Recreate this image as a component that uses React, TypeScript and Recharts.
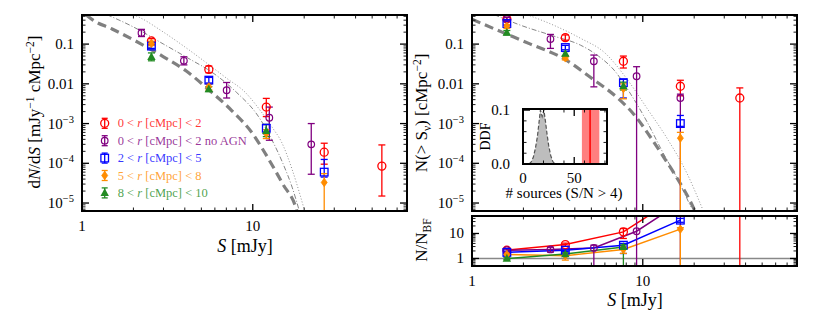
import React from "react";
import {
  Area,
  ComposedChart,
  ErrorBar,
  Legend,
  Line,
  ReferenceArea,
  ReferenceLine,
  Scatter,
  XAxis,
  YAxis,
} from "recharts";

const FONT = '"Liberation Serif", "DejaVu Serif", serif';

type Pt = { s: number; v: number; lo: number; hi: number };

// ---- left panel: differential counts dN/dS ----
const dndsRed: Pt[] = [
  { s: 2.55, v: 0.12, lo: 0.105, hi: 0.137 },
  { s: 5.53, v: 0.023, lo: 0.019, hi: 0.028 },
  { s: 12.0, v: 2.6e-3, lo: 1.5e-3, hi: 4.3e-3 },
  { s: 26.2, v: 1.9e-4, lo: 9.5e-5, hi: 3.2e-4 },
  { s: 57, v: 8.5e-5, lo: 1.5e-5, hi: 2.9e-4 },
];
const dndsPurple: Pt[] = [
  { s: 2.23, v: 0.19, lo: 0.155, hi: 0.235 },
  { s: 3.95, v: 0.038, lo: 0.03, hi: 0.048 },
  { s: 7.03, v: 0.0069, lo: 0.0044, hi: 0.0108 },
  { s: 12.5, v: 1.4e-3, lo: 3.8e-4, hi: 2.6e-3 },
  { s: 22, v: 3e-4, lo: 5.3e-5, hi: 1e-3 },
];
const dndsBlue: Pt[] = [
  { s: 2.55, v: 0.089, lo: 0.078, hi: 0.1 },
  { s: 5.53, v: 0.0124, lo: 0.0105, hi: 0.0145 },
  { s: 12.0, v: 7.6e-4, lo: 5.5e-4, hi: 9.5e-4 },
  { s: 26.2, v: 6e-5, lo: 4.5e-5, hi: 1.25e-4 },
];
const dndsOrange: Pt[] = [
  { s: 2.55, v: 0.104, lo: 0.092, hi: 0.118 },
  { s: 5.53, v: 0.0084, lo: 0.007, hi: 0.0098 },
  { s: 12.0, v: 5.6e-4, lo: 4.2e-4, hi: 7e-4 },
  { s: 26.2, v: 3.3e-5, lo: 1e-6, hi: 5.5e-5 },
];
const dndsGreen: Pt[] = [
  { s: 2.55, v: 0.048, lo: 0.038, hi: 0.06 },
  { s: 5.53, v: 0.0074, lo: 0.0064, hi: 0.0085 },
  { s: 12.0, v: 6.6e-4, lo: 4.7e-4, hi: 9.5e-4 },
];

// model curves, left panel [S, dN/dS]
const dndsModel = [
  [1.06, 0.54], [1.16, 0.4], [1.5, 0.24], [2.17, 0.106], [3, 0.048], [4.08, 0.021],
  [5.5, 0.0072], [7.55, 2.1e-3], [10, 5.5e-4], [12, 1.6e-4], [15, 3e-5], [18, 7e-6], [18.4, 5e-6],
];
const dndsDashDot = [
  [1.4, 0.55], [1.556, 0.45], [2, 0.27], [3, 0.1], [4.08, 0.047], [6.09, 0.0166], [8, 0.0062],
  [10.8, 1.5e-3], [12.9, 4e-4], [15, 1e-4], [17, 2.5e-5], [18.8, 6e-6],
];
const dndsDotted = [
  [2.0, 0.55], [2.17, 0.47], [3, 0.2], [4, 0.085], [5.55, 0.03], [7, 0.014], [9.07, 0.006],
  [11, 2.2e-3], [13, 8e-4], [14.7, 3.5e-4], [17, 7e-5], [19, 1.5e-5], [20.2, 6e-6],
];

// ---- right panel: cumulative counts N(>S) ----
const cumRed: Pt[] = [
  { s: 1.6, v: 0.43, lo: 0.39, hi: 0.47 },
  { s: 3.52, v: 0.145, lo: 0.125, hi: 0.17 },
  { s: 7.7, v: 0.037, lo: 0.025, hi: 0.05 },
  { s: 16.6, v: 0.0087, lo: 0.005, hi: 0.0123 },
  { s: 37, v: 0.0044, lo: 1e-6, hi: 0.0079 },
];
const cumPurple: Pt[] = [
  { s: 1.6, v: 0.43, lo: 0.39, hi: 0.47 },
  { s: 2.88, v: 0.134, lo: 0.078, hi: 0.175 },
  { s: 5.17, v: 0.037, lo: 0.0084, hi: 0.053 },
  { s: 9.2, v: 0.0155, lo: 1e-6, hi: 0.027 },
  { s: 16.6, v: 0.0044, lo: 1e-6, hi: 0.0055 },
];
const cumBlue: Pt[] = [
  { s: 1.6, v: 0.33, lo: 0.3, hi: 0.37 },
  { s: 3.52, v: 0.082, lo: 0.072, hi: 0.093 },
  { s: 7.7, v: 0.0107, lo: 0.0044, hi: 0.013 },
  { s: 16.6, v: 1e-3, lo: 8.5e-4, hi: 1.6e-3 },
];
const cumOrange: Pt[] = [
  { s: 1.6, v: 0.28, lo: 0.25, hi: 0.31 },
  { s: 3.52, v: 0.045, lo: 0.04, hi: 0.05 },
  { s: 7.7, v: 0.0076, lo: 0.0042, hi: 0.01 },
  { s: 16.6, v: 4.3e-4, lo: 1e-6, hi: 6e-4 },
];
const cumGreen: Pt[] = [
  { s: 1.6, v: 0.195, lo: 0.17, hi: 0.22 },
  { s: 3.52, v: 0.058, lo: 0.05, hi: 0.065 },
  { s: 7.7, v: 0.0088, lo: 0.007, hi: 0.011 },
];

const cumModel = [
  [1, 0.42], [1.5, 0.2], [2.2, 0.1], [3.45, 0.043], [5, 0.014], [7, 0.0047], [8.88, 1.7e-3],
  [11, 4.8e-4], [12.7, 1.9e-4], [15.5, 5e-5], [19.2, 1e-5], [20.3, 6e-6],
];
const cumDashDot = [
  [1.35, 0.55], [1.92, 0.3], [3, 0.16], [4.32, 0.094], [5.5, 0.05], [6.8, 0.022], [8.5, 0.0055],
  [10.6, 1.1e-3], [13, 2e-4], [16, 4e-5], [19.1, 8e-6],
];
const cumDotted = [
  [2.1, 0.55], [3, 0.3], [4.32, 0.14], [6, 0.06], [8, 0.014], [10.6, 2.4e-3], [14, 4e-4],
  [18, 6e-5], [22.4, 7e-6],
];

// ---- ratio panel N / N_BF ----
const ratioRed: Pt[] = [
  { s: 1.6, v: 2.15, lo: 1.9, hi: 2.4 },
  { s: 3.52, v: 3.6, lo: 3.1, hi: 4.1 },
  { s: 7.7, v: 11.6, lo: 6.3, hi: 15.8 },
  { s: 16.6, v: 340, lo: 200, hi: 500 },
  { s: 37, v: 3000, lo: 0.1, hi: 1e5 },
];
const ratioPurple: Pt[] = [
  { s: 1.6, v: 2.15, lo: 1.9, hi: 2.4 },
  { s: 2.88, v: 2.3, lo: 1.8, hi: 2.8 },
  { s: 5.17, v: 2.65, lo: 0.1, hi: 3.4 },
  { s: 9.2, v: 12.3, lo: 0.1, hi: 1000 },
  { s: 16.6, v: 170, lo: 0.1, hi: 1000 },
];
const ratioBlue: Pt[] = [
  { s: 1.6, v: 1.75, lo: 1.55, hi: 1.95 },
  { s: 3.52, v: 2.15, lo: 1.9, hi: 2.4 },
  { s: 7.7, v: 3.4, lo: 1.58, hi: 4.0 },
  { s: 16.6, v: 34, lo: 28, hi: 40 },
];
const ratioOrange: Pt[] = [
  { s: 1.6, v: 1.45, lo: 1.3, hi: 1.6 },
  { s: 3.52, v: 1.3, lo: 0.86, hi: 1.5 },
  { s: 7.7, v: 2.3, lo: 1.6, hi: 3.0 },
  { s: 16.6, v: 14.9, lo: 0.1, hi: 17 },
];
const ratioGreen: Pt[] = [
  { s: 1.6, v: 1.0, lo: 0.9, hi: 1.12 },
  { s: 3.52, v: 1.5, lo: 1.3, hi: 1.7 },
  { s: 7.7, v: 2.9, lo: 0.1, hi: 3.5 },
];
const ratioUnity = 1;

// ---- inset: distribution of source numbers ----
const histSources = [6, 8, 10, 12, 14, 15.5, 17, 18.7, 20.4, 22, 23.5, 25, 27, 29, 31];
const histDdf = [0, 0.004, 0.012, 0.028, 0.05, 0.075, 0.1, 0.088, 0.1, 0.078, 0.055, 0.035, 0.016, 0.005, 0];
const observedCount = 65.5;
const observedBand = [57.5, 74.5];

const legendLo = ["0", "0", "2", "5", "8"];
const legendHi = ["2", "2 no AGN", "5", "8", "10"];

const X_DOMAIN = [1, 80];
const Y_MAIN = [6.3e-6, 0.54];
const Y_RATIO = [0.5, 50];
const X_MAJOR = [1, 10];
const Y_MAIN_MAJOR = [1e-6, 1e-5, 1e-4, 1e-3, 0.01, 0.1];
const Y_RATIO_MAJOR = [0.1, 1, 10];

const series = [
  { key: "red", color: "#ff0000", kind: "circle", dnds: dndsRed, cum: cumRed, ratio: ratioRed },
  { key: "purple", color: "#800080", kind: "small", dnds: dndsPurple, cum: cumPurple, ratio: ratioPurple },
  { key: "blue", color: "#0000ff", kind: "square", dnds: dndsBlue, cum: cumBlue, ratio: ratioBlue },
  { key: "orange", color: "#ff8c00", kind: "diamond", dnds: dndsOrange, cum: cumOrange, ratio: ratioOrange },
  { key: "green", color: "#228b22", kind: "triangle", dnds: dndsGreen, cum: cumGreen, ratio: ratioGreen },
];

const clamp = (v: number, d: number[]) => Math.min(Math.max(v, d[0]), d[1]);

// error bar ends are kept inside the axis range (matplotlib clips them there)
const toPoints = (d: Pt[], dom: number[]) =>
  d.map((p) => ({ x: p.s, y: p.v, err: [p.v - clamp(p.lo, dom), clamp(p.hi, dom) - p.v] }));
const toCurve = (d: number[][]) => d.map(([x, y]) => ({ x, y }));
const toLine = (d: Pt[]) => d.map((p) => ({ x: p.s, y: p.v }));

function logTicks(majors: number[], lo: number, hi: number) {
  const out: number[] = [];
  majors.forEach((m) => {
    for (let k = 1; k <= 9; k++) {
      const v = m * k;
      if (v >= lo * 0.999 && v <= hi * 1.001) out.push(v);
    }
  });
  return out;
}

const isDecade = (v: number) => Math.abs(Math.log10(v) - Math.round(Math.log10(v))) < 1e-6;

function powLabel(v: number): React.ReactNode {
  const e = Math.round(Math.log10(v));
  if (e >= -2) return Number(v.toPrecision(2)).toString();
  return (
    <>
      10
      <tspan dy={-6} fontSize={10.5}>
        {"\u2212" + Math.abs(e)}
      </tspan>
    </>
  );
}

function makeXTick(span: number, isMajor: (v: number) => boolean, label?: (v: number) => React.ReactNode, dyLabel = 20) {
  return (props: any) => {
    const { x, y, payload } = props;
    const v = payload.value;
    const mj = isMajor(v);
    const len = mj ? 7 : 3.5;
    const sw = mj ? 1.3 : 0.9;
    return (
      <g>
        <line x1={x} y1={y} x2={x} y2={y - len} stroke="#000" strokeWidth={sw} />
        <line x1={x} y1={y - span} x2={x} y2={y - span + len} stroke="#000" strokeWidth={sw} />
        {label && mj ? (
          <text x={x} y={y + dyLabel} textAnchor="middle" fontFamily={FONT} fontSize={15} fill="#000">
            {label(v)}
          </text>
        ) : null}
      </g>
    );
  };
}

function makeYTick(span: number, isMajor: (v: number) => boolean, label?: (v: number) => React.ReactNode, gap = 8) {
  return (props: any) => {
    const { x, y, payload } = props;
    const v = payload.value;
    const mj = isMajor(v);
    const len = mj ? 7 : 3.5;
    const sw = mj ? 1.3 : 0.9;
    return (
      <g>
        <line x1={x} y1={y} x2={x + len} y2={y} stroke="#000" strokeWidth={sw} />
        <line x1={x + span} y1={y} x2={x + span - len} y2={y} stroke="#000" strokeWidth={sw} />
        {label && mj ? (
          <text x={x - gap} y={y + 5} textAnchor="end" fontFamily={FONT} fontSize={15} fill="#000">
            {label(v)}
          </text>
        ) : null}
      </g>
    );
  };
}

function drawMarker(kind: string, color: string, cx: number, cy: number) {
  switch (kind) {
    case "circle":
      return <circle cx={cx} cy={cy} r={4} fill="none" stroke={color} strokeWidth={1.3} />;
    case "small":
      return <circle cx={cx} cy={cy} r={3.3} fill="none" stroke={color} strokeWidth={1.2} />;
    case "square":
      return <rect x={cx - 3.8} y={cy - 3.8} width={7.6} height={7.6} fill="none" stroke={color} strokeWidth={1.3} />;
    case "diamond":
      return (
        <polygon
          points={`${cx},${cy - 4.2} ${cx + 3},${cy} ${cx},${cy + 4.2} ${cx - 3},${cy}`}
          fill={color}
          stroke={color}
          strokeWidth={0.8}
        />
      );
    default:
      return <polygon points={`${cx},${cy - 4.6} ${cx + 4.2},${cy + 3.2} ${cx - 4.2},${cy + 3.2}`} fill={color} />;
  }
}

// markers that fall outside the plot box are not drawn
const markerShape = (kind: string, color: string, top: number, bottom: number) => (p: any) => {
  if (p.cx == null || p.cy == null || Number.isNaN(p.cy) || p.cy < top - 2 || p.cy > bottom + 2) return <g />;
  return drawMarker(kind, color, p.cx, p.cy);
};

function LegendBox() {
  return (
    <svg width={230} height={92} style={{ overflow: "visible" }}>
      {series.map((s, i) => {
        const cy = 9.3 + i * 17.4;
        return (
          <g key={s.key}>
            <line x1={8.7} y1={cy - 5} x2={8.7} y2={cy + 5} stroke={s.color} strokeWidth={1.3} />
            <line x1={5.7} y1={cy - 5} x2={11.7} y2={cy - 5} stroke={s.color} strokeWidth={1.3} />
            <line x1={5.7} y1={cy + 5} x2={11.7} y2={cy + 5} stroke={s.color} strokeWidth={1.3} />
            {drawMarker(s.kind, s.color, 8.7, cy)}
            <text x={21.7} y={cy + 4} fontFamily={FONT} fontSize={12.5} fill={s.color} fillOpacity={0.8}>
              {legendLo[i]} &lt; <tspan fontStyle="italic">r</tspan> [cMpc] &lt; {legendHi[i]}
            </text>
          </g>
        );
      })}
    </svg>
  );
}

const txt = { fontFamily: FONT, fill: "#000" };

function LeftYTitle() {
  return (
    <text transform="rotate(-90)" x={-112} y={40} textAnchor="middle" fontSize={17} {...txt}>
      d<tspan fontStyle="italic">N</tspan>/d<tspan fontStyle="italic">S</tspan> [mJy
      <tspan dy={-6} fontSize={11.5}>{"\u22121"}</tspan>
      <tspan dy={6}> cMpc</tspan>
      <tspan dy={-6} fontSize={11.5}>{"\u22122"}</tspan>
      <tspan dy={6}>]</tspan>
    </text>
  );
}

function LeftXTitle() {
  return (
    <text x={245} y={252} textAnchor="middle" fontSize={18} {...txt}>
      <tspan fontStyle="italic">S</tspan> [mJy]
    </text>
  );
}

function RightXTitle() {
  return (
    <text x={235} y={306} textAnchor="middle" fontSize={18} {...txt}>
      <tspan fontStyle="italic">S</tspan> [mJy]
    </text>
  );
}

function RightYTitle() {
  return (
    <text transform="rotate(-90)" x={-113} y={27} textAnchor="middle" fontSize={17} {...txt}>
      N(&gt; S<tspan dy={4} fontSize={11.5}>ν</tspan>
      <tspan dy={-4}>) [cMpc</tspan>
      <tspan dy={-6} fontSize={11.5}>{"\u22122"}</tspan>
      <tspan dy={6}>]</tspan>
    </text>
  );
}

function RatioYTitle() {
  return (
    <text transform="rotate(-90)" x={-240} y={27} textAnchor="middle" fontSize={17} {...txt}>
      N/N<tspan dy={4} fontSize={11.5}>BF</tspan>
    </text>
  );
}

function InsetYTitle() {
  return (
    <text transform="rotate(-90)" x={-46.5} y={20} textAnchor="middle" fontSize={14} {...txt}>
      DDF
    </text>
  );
}

function InsetXTitle() {
  return (
    <text x={94} y={108} textAnchor="middle" fontSize={15} {...txt}>
      # sources (S/N &gt; 4)
    </text>
  );
}

const xTicksMain = logTicks(X_MAJOR, X_DOMAIN[0], X_DOMAIN[1]);
const yTicksMain = logTicks(Y_MAIN_MAJOR, Y_MAIN[0], Y_MAIN[1]);
const yTicksRatio = logTicks(Y_RATIO_MAJOR, Y_RATIO[0], Y_RATIO[1]);

const PW = 325;
const MAIN_H = 196;
const RATIO_H = 50;

function curveLines(model: number[][], dashDot: number[][], dotted: number[][]) {
  return [
    <Line key="dotted" data={toCurve(dotted)} dataKey="y" type="monotone" stroke="#888" strokeWidth={0.9}
      strokeDasharray="1 2" dot={false} isAnimationActive={false} />,
    <Line key="dashdot" data={toCurve(dashDot)} dataKey="y" type="monotone" stroke="#777" strokeWidth={0.9}
      strokeDasharray="5 2 1 2" dot={false} isAnimationActive={false} />,
    <Line key="model" data={toCurve(model)} dataKey="y" type="monotone" stroke="#808080" strokeWidth={3.2}
      strokeDasharray="9 5" dot={false} isAnimationActive={false} />,
  ];
}

function pointSeries(which: "dnds" | "cum" | "ratio", dom: number[], top: number, bottom: number) {
  return series.map((s) => (
    <Scatter
      key={s.key + which}
      data={toPoints(s[which], dom)}
      dataKey="y"
      shape={markerShape(s.kind, s.color, top, bottom)}
      isAnimationActive={false}
    >
      <ErrorBar dataKey="err" direction="y" width={3.5} stroke={s.color} strokeWidth={1.3} isAnimationActive={false} />
    </Scatter>
  ));
}

function ratioLines() {
  return series.map((s) => (
    <Line key={s.key + "link"} data={toLine(s.ratio)} dataKey="y" type="linear" stroke={s.color}
      strokeWidth={1.5} dot={false} isAnimationActive={false} />
  ));
}

function LeftPanel() {
  return (
    <ComposedChart width={420} height={312} margin={{ top: 15, right: 13, bottom: 71, left: 22 }}>
      <XAxis dataKey="x" type="number" scale="log" domain={X_DOMAIN} allowDataOverflow ticks={xTicksMain}
        interval={0} height={30} tickLine={false} axisLine={false} tickSize={0} tickMargin={0}
        tick={makeXTick(MAIN_H, isDecade, powLabel)} label={<LeftXTitle />} />
      <YAxis dataKey="y" type="number" scale="log" domain={Y_MAIN} allowDataOverflow ticks={yTicksMain}
        interval={0} width={60} tickLine={false} axisLine={false} tickSize={0} tickMargin={0}
        tick={makeYTick(PW, isDecade, powLabel)} label={<LeftYTitle />} />
      {curveLines(dndsModel, dndsDashDot, dndsDotted)}
      {pointSeries("dnds", Y_MAIN, 15, 211)}
      <Legend layout="vertical" align="center" verticalAlign="middle"
        wrapperStyle={{ left: 96, top: 114, width: 230, height: 92 }} content={() => <LegendBox />} />
    </ComposedChart>
  );
}

function RightPanel() {
  return (
    <ComposedChart width={430} height={312} margin={{ top: 15, right: 33, bottom: 71, left: 32 }}>
      <XAxis dataKey="x" type="number" scale="log" domain={X_DOMAIN} allowDataOverflow ticks={xTicksMain}
        interval={0} height={30} tickLine={false} axisLine={false} tickSize={0} tickMargin={0}
        tick={makeXTick(MAIN_H, isDecade)} />
      <YAxis dataKey="y" type="number" scale="log" domain={Y_MAIN} allowDataOverflow ticks={yTicksMain}
        interval={0} width={40} tickLine={false} axisLine={false} tickSize={0} tickMargin={0}
        tick={makeYTick(PW, isDecade, powLabel)} label={<RightYTitle />} />
      {curveLines(cumModel, cumDashDot, cumDotted)}
      {pointSeries("cum", Y_MAIN, 15, 211)}
    </ComposedChart>
  );
}

function RatioPanel() {
  return (
    <ComposedChart width={430} height={312} margin={{ top: 216, right: 33, bottom: 16, left: 32 }}>
      <XAxis dataKey="x" type="number" scale="log" domain={X_DOMAIN} allowDataOverflow ticks={xTicksMain}
        interval={0} height={30} tickLine={false} axisLine={false} tickSize={0} tickMargin={0}
        tick={makeXTick(RATIO_H, isDecade, powLabel, 19.5)} label={<RightXTitle />} />
      <YAxis dataKey="y" type="number" scale="log" domain={Y_RATIO} allowDataOverflow ticks={yTicksRatio}
        interval={0} width={40} tickLine={false} axisLine={false} tickSize={0} tickMargin={0}
        tick={makeYTick(PW, isDecade, powLabel)} label={<RatioYTitle />} />
      <ReferenceLine y={ratioUnity} stroke="#888" strokeWidth={1.5} />
      {ratioLines()}
      {pointSeries("ratio", Y_RATIO, 216, 266)}
    </ComposedChart>
  );
}

const histData = histSources.map((x, i) => ({ x, y: histDdf[i] }));
const INSET_X = [0, 82];
const INSET_Y = [0, 0.102];

function InsetPanel() {
  return (
    <ComposedChart width={180} height={130} data={histData} margin={{ top: 19, right: 43, bottom: 26, left: 23 }}>
      <XAxis dataKey="x" type="number" domain={INSET_X} allowDataOverflow ticks={[0, 20, 40, 50, 60, 80]}
        interval={0} height={30} tickLine={false} axisLine={false} tickSize={0} tickMargin={0}
        tick={makeXTick(55, (v) => v === 0 || v === 50, (v) => String(v), 19)} label={<InsetXTitle />} />
      <YAxis dataKey="y" type="number" domain={INSET_Y} allowDataOverflow ticks={[0, 0.02, 0.04, 0.06, 0.08, 0.1]}
        interval={0} width={30} tickLine={false} axisLine={false} tickSize={0} tickMargin={0}
        tick={makeYTick(84, (v) => v === 0 || v === 0.1, (v) => v.toFixed(1), 13)} label={<InsetYTitle />} />
      <Area dataKey="y" type="linear" fill="#bdbdbd" fillOpacity={1} stroke="#555" strokeWidth={1.2}
        strokeDasharray="4 2" isAnimationActive={false} />
      <ReferenceArea x1={observedBand[0]} x2={observedBand[1]} y1={INSET_Y[0]} y2={INSET_Y[1]} fill="#ff0000"
        fillOpacity={0.5} stroke="none" ifOverflow="visible" />
      <ReferenceLine x={observedCount} stroke="#ff0000" strokeWidth={1.5} />
    </ComposedChart>
  );
}

// black axes frame drawn over each plot box
function Frame({ l, t, r, b }: { l: number; t: number; r: number; b: number }) {
  return (
    <div
      style={{
        position: "absolute",
        left: l - 1,
        top: t - 1,
        width: r - l + 2,
        height: b - t + 2,
        border: "2px solid #000",
        boxSizing: "border-box",
        pointerEvents: "none",
      }}
    />
  );
}

export default function App() {
  return (
    <div style={{ position: "absolute", left: 0, top: 0, width: 830, height: 312, background: "#fff" }}>
      <div style={{ position: "absolute", left: 0, top: 0 }}>
        <LeftPanel />
      </div>
      <div style={{ position: "absolute", left: 400, top: 0 }}>
        <RightPanel />
      </div>
      <div style={{ position: "absolute", left: 400, top: 0 }}>
        <RatioPanel />
      </div>
      <Frame l={82} t={15} r={407} b={211} />
      <Frame l={472} t={15} r={797} b={211} />
      <Frame l={472} t={216} r={797} b={266} />
      <div style={{ position: "absolute", left: 523, top: 109, width: 84, height: 55, background: "#fff" }} />
      <div style={{ position: "absolute", left: 470, top: 90 }}>
        <InsetPanel />
      </div>
      <Frame l={523} t={109} r={607} b={164} />
    </div>
  );
}
